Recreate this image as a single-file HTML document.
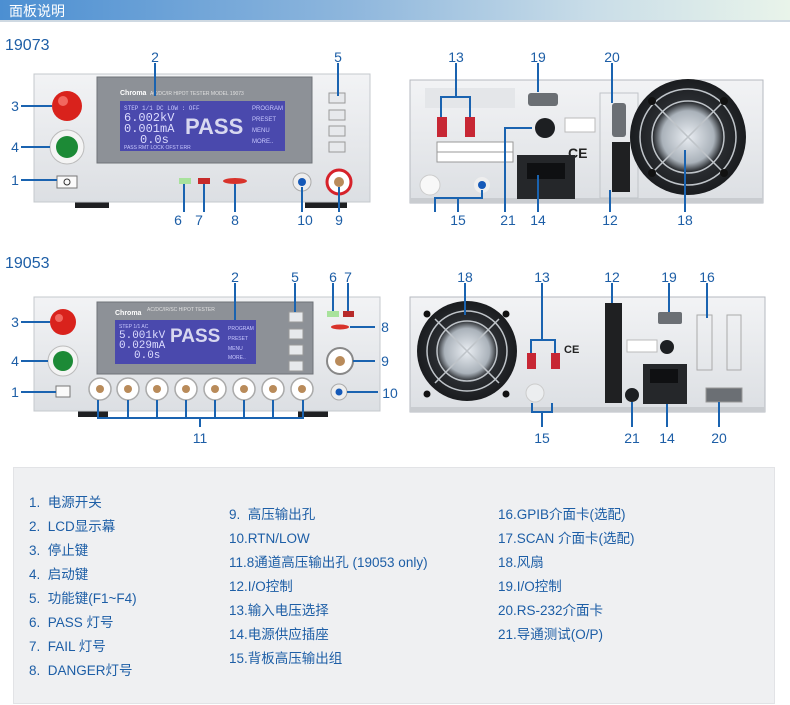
<!DOCTYPE html>
<html><head><meta charset="utf-8"><style>
body{margin:0;width:790px;height:705px;background:#fff;overflow:hidden;font-family:"Liberation Sans","Noto Sans CJK SC",sans-serif;position:relative}
.hdr{position:absolute;left:0;top:0;width:790px;height:20px;background:linear-gradient(90deg,#4c8fd2,#8fb7dd 45%,#c9dde8 75%,#e9f4ea);border-bottom:2px solid #cfd9e2}
.hdr span{position:absolute;left:9px;top:1px;color:#fff;font-size:14px}
.leg{position:absolute;left:13px;top:467px;width:760px;height:235px;background:#eff0f2;border:1px solid #e2e3e6}
.leg div{position:absolute;color:#1d5ea6;font-size:13.5px;white-space:nowrap;line-height:16px;height:16px}
</style></head><body>
<div class="hdr"><span>面板说明</span></div>
<svg width="790" height="465" style="position:absolute;left:0;top:0" font-family="Liberation Sans, sans-serif">
<defs>
<radialGradient id="fan" cx="50%" cy="50%" r="50%"><stop offset="0" stop-color="#e9edf2"/><stop offset=".45" stop-color="#aab2ba"/><stop offset=".6" stop-color="#2a2d31"/><stop offset="1" stop-color="#1a1c1f"/></radialGradient>
<linearGradient id="body" x1="0" y1="0" x2="0" y2="1"><stop offset="0" stop-color="#f2f3f5"/><stop offset="1" stop-color="#dcdfe3"/></linearGradient>
</defs>
<text x="5" y="50" font-size="16" fill="#1d5ea6">19073</text>
<text x="5" y="268" font-size="16" fill="#1d5ea6">19053</text>

<!-- Front 19073 -->
<rect x="75" y="200" width="34" height="8" fill="#1f2022"/><rect x="305" y="200" width="42" height="8" fill="#1f2022"/>
<rect x="34" y="74" width="336" height="128" fill="url(#body)" stroke="#c4c8cd"/>
<rect x="97" y="77" width="215" height="86" fill="#8d9197" stroke="#6f7378"/>
<text x="120" y="95" font-size="7" fill="#fff" font-weight="bold">Chroma</text><text x="150" y="95" font-size="5" fill="#e0e0e0">AC/DC/IR HIPOT TESTER  MODEL 19073</text>
<rect x="120" y="101" width="165" height="50" fill="#4a49ad"/>
<text x="124" y="110" font-size="6" fill="#c8c8ff" font-family="Liberation Mono">STEP 1/1 DC LOW : OFF</text>
<text x="124" y="121" font-size="12" fill="#dcdcff" font-family="Liberation Mono">6.002kV</text>
<text x="124" y="132" font-size="12" fill="#dcdcff" font-family="Liberation Mono">0.001mA</text>
<text x="140" y="143" font-size="12" fill="#dcdcff" font-family="Liberation Mono">0.0s</text>
<text x="185" y="134" font-size="22" fill="#d8d8f0" font-weight="bold">PASS</text>
<text x="252" y="110" font-size="6" fill="#c8c8ff">PROGRAM</text><text x="252" y="121" font-size="6" fill="#c8c8ff">PRESET</text><text x="252" y="132" font-size="6" fill="#c8c8ff">MENU</text><text x="252" y="143" font-size="6" fill="#c8c8ff">MORE..</text>
<text x="124" y="149" font-size="5" fill="#c8c8ff">PASS      RMT LOCK OFST ERR</text>
<circle cx="67" cy="106" r="15" fill="#d9221c"/><circle cx="63" cy="101" r="5" fill="#f2675f"/>
<circle cx="67" cy="147" r="17" fill="#f4f4f4" stroke="#bbb"/><circle cx="67" cy="147" r="11" fill="#1c8a36"/>
<rect x="57" y="176" width="20" height="12" fill="#fafafa" stroke="#777"/><circle cx="67" cy="182" r="3" fill="none" stroke="#333"/>
<rect x="329" y="93" width="16" height="10" fill="#e7e9ec" stroke="#999"/><rect x="329" y="110" width="16" height="10" fill="#e7e9ec" stroke="#999"/><rect x="329" y="126" width="16" height="10" fill="#e7e9ec" stroke="#999"/><rect x="329" y="142" width="16" height="10" fill="#e7e9ec" stroke="#999"/>
<rect x="179" y="178" width="12" height="6" fill="#a8e29c"/><rect x="198" y="178" width="12" height="6" fill="#c62a2a"/><ellipse cx="235" cy="181" rx="12" ry="3" fill="#d8332b"/>
<circle cx="302" cy="182" r="9" fill="#eee" stroke="#aaa"/><circle cx="302" cy="182" r="4" fill="#1559b8"/>
<circle cx="339" cy="182" r="12" fill="#fff" stroke="#d6222a" stroke-width="3"/><circle cx="339" cy="182" r="5" fill="#b98b5a"/>
<g stroke="#1a63b0" stroke-width="2" fill="none">
<path d="M155 63V96M338 63V96M21 106H52M21 147H50M21 180H57M184 184V212M204 184V212M235 184V212M302 187V212M339 187V212"/>
</g>
<g font-size="14" fill="#1d5ea6" text-anchor="middle">
<text x="155" y="62">2</text><text x="338" y="62">5</text><text x="15" y="111">3</text><text x="15" y="152">4</text><text x="15" y="185">1</text>
<text x="178" y="225">6</text><text x="199" y="225">7</text><text x="235" y="225">8</text><text x="305" y="225">10</text><text x="339" y="225">9</text>
</g>

<!-- Rear 19073 -->
<rect x="410" y="80" width="353" height="123" fill="url(#body)" stroke="#b6bac0"/>
<rect x="410" y="198" width="353" height="5" fill="#c9ccd0"/>
<rect x="425" y="88" width="90" height="20" fill="#e4e6e9"/>
<rect x="437" y="117" width="10" height="20" fill="#c72734"/><rect x="465" y="117" width="10" height="20" fill="#c72734"/>
<rect x="437" y="142" width="76" height="10" fill="#fff" stroke="#999"/><rect x="437" y="152" width="76" height="10" fill="#fff" stroke="#999"/>
<rect x="528" y="93" width="30" height="13" rx="3" fill="#6b6f74"/>
<circle cx="545" cy="128" r="10" fill="#1d1f22"/>
<rect x="565" y="118" width="30" height="14" fill="#fff" stroke="#bbb"/><text x="568" y="158" font-size="14" font-weight="bold" fill="#222">CE</text>
<rect x="517" y="155" width="58" height="44" fill="#25272a"/><rect x="527" y="163" width="38" height="16" fill="#0f1012"/>
<rect x="600" y="93" width="38" height="105" fill="none" stroke="#c0c4c8"/>
<rect x="612" y="103" width="14" height="34" rx="3" fill="#6b6f74"/>
<rect x="612" y="142" width="18" height="50" fill="#1f2022"/>
<circle cx="430" cy="185" r="10" fill="#f8f8f8" stroke="#ccc"/><circle cx="482" cy="185" r="8" fill="#eee"/><circle cx="482" cy="185" r="4" fill="#1559b8"/>
<circle cx="688" cy="137" r="58" fill="url(#fan)"/>
<g stroke="#bfc4c9" stroke-width="1.5" fill="none"><circle cx="688" cy="137" r="48"/><circle cx="688" cy="137" r="36"/><path d="M650 99L726 175M726 99L650 175"/></g>
<g fill="#111"><circle cx="652" cy="101" r="4"/><circle cx="724" cy="101" r="4"/><circle cx="652" cy="173" r="4"/><circle cx="724" cy="173" r="4"/></g>
<g stroke="#1a63b0" stroke-width="2" fill="none">
<path d="M456 63V97M441 117V97H470V117M538 63V92M612 63V103M505 212V128H532M538 212V175M610 212V190M685 212V150M435 212V198H482V190M458 198V212"/>
</g>
<g font-size="14" fill="#1d5ea6" text-anchor="middle">
<text x="456" y="62">13</text><text x="538" y="62">19</text><text x="612" y="62">20</text>
<text x="458" y="225">15</text><text x="508" y="225">21</text><text x="538" y="225">14</text><text x="610" y="225">12</text><text x="685" y="225">18</text>
</g>

<!-- Front 19053 -->
<rect x="78" y="410" width="30" height="7" fill="#1f2022"/><rect x="298" y="410" width="30" height="7" fill="#1f2022"/>
<rect x="34" y="297" width="346" height="114" fill="url(#body)" stroke="#c4c8cd"/>
<rect x="97" y="302" width="216" height="72" fill="#8d9197" stroke="#6f7378"/>
<text x="115" y="315" font-size="7" fill="#fff" font-weight="bold">Chroma</text><text x="147" y="311" font-size="5" fill="#e0e0e0">AC/DC/IR/SC HIPOT TESTER</text>
<rect x="115" y="320" width="141" height="44" fill="#4a49ad"/>
<text x="119" y="328" font-size="5" fill="#c8c8ff">STEP 1/1 AC</text>
<text x="119" y="338" font-size="11" fill="#dcdcff" font-family="Liberation Mono">5.001kV</text>
<text x="119" y="348" font-size="11" fill="#dcdcff" font-family="Liberation Mono">0.029mA</text>
<text x="134" y="358" font-size="11" fill="#dcdcff" font-family="Liberation Mono">0.0s</text>
<text x="170" y="342" font-size="19" fill="#d8d8f0" font-weight="bold">PASS</text>
<text x="228" y="330" font-size="5" fill="#c8c8ff">PROGRAM</text><text x="228" y="340" font-size="5" fill="#c8c8ff">PRESET</text><text x="228" y="350" font-size="5" fill="#c8c8ff">MENU</text><text x="228" y="359" font-size="5" fill="#c8c8ff">MORE..</text>
<rect x="289" y="312" width="14" height="10" fill="#e7e9ec" stroke="#999"/><rect x="289" y="329" width="14" height="10" fill="#e7e9ec" stroke="#999"/><rect x="289" y="345" width="14" height="10" fill="#e7e9ec" stroke="#999"/><rect x="289" y="361" width="14" height="10" fill="#e7e9ec" stroke="#999"/>
<circle cx="63" cy="322" r="13" fill="#d9221c"/><circle cx="59" cy="318" r="4" fill="#f2675f"/>
<circle cx="63" cy="361" r="15" fill="#f4f4f4" stroke="#bbb"/><circle cx="63" cy="361" r="10" fill="#1c8a36"/>
<rect x="56" y="386" width="14" height="11" fill="#fafafa" stroke="#777"/>
<g fill="#fff" stroke="#aaa" stroke-width="1.5">
<circle cx="100" cy="389" r="11"/><circle cx="128" cy="389" r="11"/><circle cx="157" cy="389" r="11"/><circle cx="186" cy="389" r="11"/><circle cx="215" cy="389" r="11"/><circle cx="244" cy="389" r="11"/><circle cx="273" cy="389" r="11"/><circle cx="302" cy="389" r="11"/></g>
<g fill="#b98b5a"><circle cx="100" cy="389" r="4"/><circle cx="128" cy="389" r="4"/><circle cx="157" cy="389" r="4"/><circle cx="186" cy="389" r="4"/><circle cx="215" cy="389" r="4"/><circle cx="244" cy="389" r="4"/><circle cx="273" cy="389" r="4"/><circle cx="302" cy="389" r="4"/></g>
<rect x="327" y="311" width="12" height="6" fill="#a8e29c"/><rect x="343" y="311" width="11" height="6" fill="#b72a2a"/><ellipse cx="340" cy="327" rx="9" ry="2.5" fill="#d8332b"/>
<circle cx="340" cy="361" r="13" fill="#fff" stroke="#888" stroke-width="2"/><circle cx="340" cy="361" r="5" fill="#b98b5a"/>
<circle cx="339" cy="392" r="8" fill="#eee" stroke="#aaa"/><circle cx="339" cy="392" r="3.5" fill="#1559b8"/>
<g stroke="#1a63b0" stroke-width="2" fill="none">
<path d="M235 283V320M295 283V312M333 283V311M348 283V311M21 322H50M21 361H48M21 392H56M350 327H375M353 361H375M347 392H378M98 400V418H303V400M128 400V418M157 400V418M186 400V418M215 400V418M244 400V418M273 400V418M200 418V427"/>
</g>
<g font-size="14" fill="#1d5ea6" text-anchor="middle">
<text x="235" y="282">2</text><text x="295" y="282">5</text><text x="333" y="282">6</text><text x="348" y="282">7</text>
<text x="15" y="327">3</text><text x="15" y="366">4</text><text x="15" y="397">1</text>
<text x="385" y="332">8</text><text x="385" y="366">9</text><text x="390" y="398">10</text><text x="200" y="443">11</text>
</g>

<!-- Rear 19053 -->
<rect x="410" y="297" width="355" height="115" fill="url(#body)" stroke="#b6bac0"/>
<rect x="410" y="407" width="355" height="5" fill="#c9ccd0"/>
<circle cx="467" cy="351" r="50" fill="url(#fan)"/>
<g stroke="#bfc4c9" stroke-width="1.5" fill="none"><circle cx="467" cy="351" r="40"/><circle cx="467" cy="351" r="30"/><path d="M435 319L499 383M499 319L435 383"/></g>
<g fill="#111"><circle cx="427" cy="314" r="3.5"/><circle cx="506" cy="314" r="3.5"/><circle cx="427" cy="394" r="3.5"/><circle cx="506" cy="394" r="3.5"/></g>
<rect x="527" y="353" width="9" height="16" fill="#c72734"/><rect x="551" y="353" width="9" height="16" fill="#c72734"/>
<text x="564" y="353" font-size="11" font-weight="bold" fill="#222">CE</text>
<circle cx="535" cy="393" r="9" fill="#eceef0" stroke="#ccc"/>
<rect x="605" y="303" width="17" height="100" fill="#1f2022"/>
<rect x="658" y="312" width="24" height="12" rx="2" fill="#6b6f74"/>
<rect x="627" y="340" width="30" height="12" fill="#fff" stroke="#bbb"/><circle cx="667" cy="347" r="7" fill="#1d1f22"/>
<rect x="697" y="315" width="15" height="55" fill="none" stroke="#aaa"/><rect x="727" y="315" width="14" height="55" fill="none" stroke="#aaa"/>
<rect x="643" y="364" width="44" height="40" fill="#25272a"/><rect x="650" y="369" width="28" height="14" fill="#0f1012"/>
<circle cx="632" cy="395" r="7" fill="#1d1f22"/>
<rect x="706" y="388" width="36" height="14" fill="#6b6f74" stroke="#999"/>
<g stroke="#1a63b0" stroke-width="2" fill="none">
<path d="M465 283V315M542 283V340M531 353V340H555V353M612 283V303M669 283V312M707 283V318M532 403V412H552V403M542 412V427M632 402V427M667 404V427M719 402V427"/>
</g>
<g font-size="14" fill="#1d5ea6" text-anchor="middle">
<text x="465" y="282">18</text><text x="542" y="282">13</text><text x="612" y="282">12</text><text x="669" y="282">19</text><text x="707" y="282">16</text>
<text x="542" y="443">15</text><text x="632" y="443">21</text><text x="667" y="443">14</text><text x="719" y="443">20</text>
</g>
</svg>

<div class="leg">
<div style="left:15px;top:27px">1.&nbsp; 电源开关</div>
<div style="left:15px;top:51px">2.&nbsp; LCD显示幕</div>
<div style="left:15px;top:75px">3.&nbsp; 停止键</div>
<div style="left:15px;top:99px">4.&nbsp; 启动键</div>
<div style="left:15px;top:123px">5.&nbsp; 功能键(F1~F4)</div>
<div style="left:15px;top:147px">6.&nbsp; PASS 灯号</div>
<div style="left:15px;top:171px">7.&nbsp; FAIL 灯号</div>
<div style="left:15px;top:195px">8.&nbsp; DANGER灯号</div>
<div style="left:215px;top:39px">9.&nbsp; 高压输出孔</div>
<div style="left:215px;top:63px">10.RTN/LOW</div>
<div style="left:215px;top:87px">11.8通道高压输出孔 (19053 only)</div>
<div style="left:215px;top:111px">12.I/O控制</div>
<div style="left:215px;top:135px">13.输入电压选择</div>
<div style="left:215px;top:159px">14.电源供应插座</div>
<div style="left:215px;top:183px">15.背板高压输出组</div>
<div style="left:484px;top:39px">16.GPIB介面卡(选配)</div>
<div style="left:484px;top:63px">17.SCAN 介面卡(选配)</div>
<div style="left:484px;top:87px">18.风扇</div>
<div style="left:484px;top:111px">19.I/O控制</div>
<div style="left:484px;top:135px">20.RS-232介面卡</div>
<div style="left:484px;top:159px">21.导通测试(O/P)</div>
</div>
</body></html>
